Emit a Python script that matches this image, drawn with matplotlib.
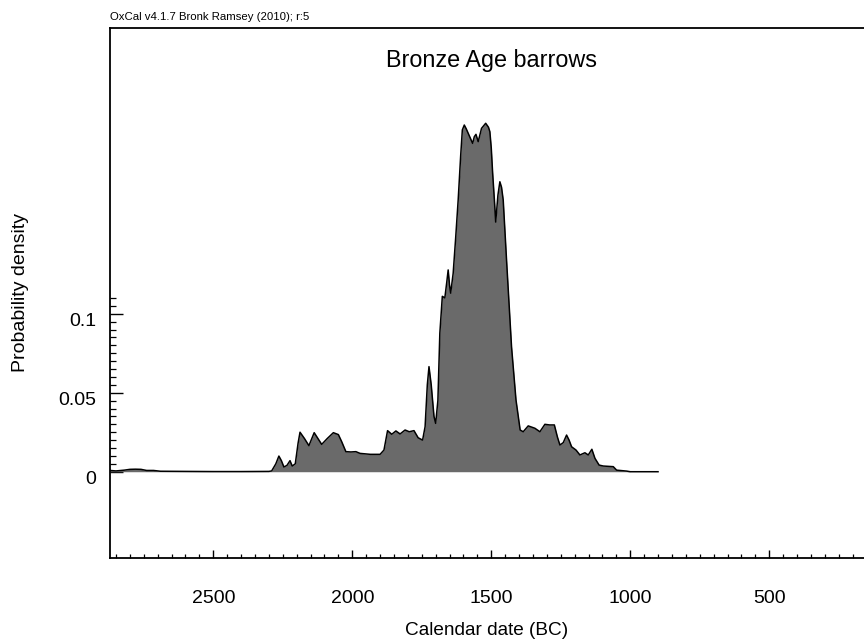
import numpy as np
import matplotlib
matplotlib.use("Agg")
import matplotlib.pyplot as plt
from matplotlib.ticker import FixedLocator
from matplotlib import transforms

years = [2872, 2850, 2820, 2800, 2780, 2760, 2740, 2715, 2690, 2600, 2500, 2400,
         2300, 2290, 2275, 2264, 2255, 2246, 2235, 2224, 2216, 2205, 2195, 2188,
         2172, 2156, 2137, 2110, 2090, 2068, 2050, 2038, 2023, 2005, 1987, 1972,
         1935, 1900, 1886, 1873, 1858, 1843, 1828, 1810, 1795, 1778, 1763, 1747,
         1738, 1730, 1724, 1716, 1706, 1700, 1692, 1685, 1676, 1667, 1660, 1655,
         1650, 1646, 1637, 1628, 1619, 1610, 1604, 1597, 1590, 1583, 1575, 1567,
         1561, 1555, 1547, 1541, 1535, 1520, 1510, 1505, 1500, 1495, 1488, 1484,
         1476, 1469, 1463, 1457, 1445, 1427, 1411, 1396, 1385, 1367, 1343, 1325,
         1307, 1290, 1273, 1262, 1253, 1241, 1229, 1220, 1211, 1195, 1181, 1163,
         1151, 1138, 1127, 1112, 1097, 1061, 1049, 1013, 1000, 900]
density = [0.0008, 0.0005, 0.001, 0.0015, 0.0016, 0.0015, 0.0008, 0.0008, 0.0003,
           0.0002, 0.0001, 0.0001, 0.0002, 0.0005, 0.005, 0.0099, 0.007, 0.003,
           0.004, 0.007, 0.0036, 0.005, 0.018, 0.025, 0.021, 0.0165, 0.0247,
           0.0173, 0.021, 0.0247, 0.0235, 0.019, 0.0127, 0.0125, 0.0127, 0.0116,
           0.011, 0.011, 0.0137, 0.026, 0.0237, 0.0258, 0.0239, 0.0264, 0.0253,
           0.026, 0.0215, 0.020, 0.0285, 0.055, 0.0665, 0.055, 0.035, 0.0306,
           0.045, 0.0876, 0.111, 0.110, 0.120, 0.1277, 0.118, 0.113, 0.1256,
           0.148, 0.172, 0.200, 0.2163, 0.2194, 0.217, 0.2142, 0.211, 0.2078,
           0.212, 0.2135, 0.2089, 0.213, 0.2173, 0.2205, 0.218, 0.2152, 0.205,
           0.189, 0.170, 0.158, 0.175, 0.1835, 0.180, 0.172, 0.134, 0.079,
           0.0454, 0.0264, 0.0253, 0.029, 0.0275, 0.0253, 0.030, 0.0296, 0.0296,
           0.022, 0.0169, 0.0184, 0.0232, 0.020, 0.0158, 0.0137, 0.0106, 0.012,
           0.0106, 0.0142, 0.0085, 0.0042, 0.0036, 0.0032, 0.001, 0.0004, 0.0, 0.0]

x_major = [2500, 2000, 1500, 1000, 500]
y_major = [0, 0.05, 0.1]
y_major_labels = ["0", "0.05", "0.1"]

title = "Bronze Age barrows"
header = "OxCal v4.1.7 Bronk Ramsey (2010); r:5"
xlabel = "Calendar date (BC)"
ylabel = "Probability density"

plt.rcParams["font.family"] = ["Liberation Sans", "DejaVu Sans"]

fig = plt.figure(figsize=(8.64, 6.42), dpi=100)
ax = fig.add_axes([110 / 864, 84 / 642, 754 / 864, 530 / 642])

ax.fill_between(years, density, 0, color="#6a6a6a", linewidth=0, zorder=2)
ax.plot(years, density, color="black", linewidth=1.1, zorder=3)

ax.set_xlim(2871.6, 159)
ax.set_ylim(-0.0546, 0.2808)

ax.xaxis.set_major_locator(FixedLocator(x_major))
ax.xaxis.set_minor_locator(FixedLocator(np.arange(2850, 150, -50)))
ax.set_xticklabels([str(v) for v in x_major])
ax.yaxis.set_major_locator(FixedLocator(y_major))
ax.yaxis.set_minor_locator(FixedLocator(np.arange(0, 0.1101, 0.005)))
ax.set_yticklabels(y_major_labels)

ax.tick_params(axis="x", which="major", direction="in", length=6, width=1.0,
               labelsize=14, pad=23)
ax.tick_params(axis="x", which="minor", direction="in", length=3, width=0.9)
ax.tick_params(axis="y", which="major", direction="in", length=9, width=1.0,
               labelsize=14, pad=10)
ax.tick_params(axis="y", which="minor", direction="in", length=4, width=0.9)

shift = transforms.ScaledTranslation(0, -6 / 100, fig.dpi_scale_trans)
for lbl in ax.get_yticklabels():
    lbl.set_transform(lbl.get_transform() + shift)

for s in ["left", "bottom", "top"]:
    ax.spines[s].set_linewidth(1.3)
ax.spines["right"].set_visible(False)

ax.set_xlabel(xlabel, fontsize=13.7, labelpad=11)
ax.set_ylabel(ylabel, fontsize=14, labelpad=21)

fig.text(491 / 864, 1 - 60 / 642, title, fontsize=16.8, ha="center", va="center")
fig.text(110 / 864, 1 - 17 / 642, header, fontsize=8.2, ha="left", va="center")

fig.savefig("out.png", dpi=100)
